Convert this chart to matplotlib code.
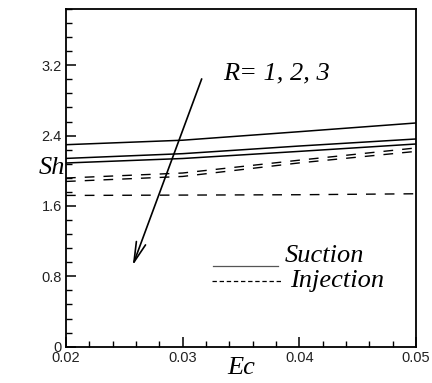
import matplotlib
matplotlib.use("Agg")
import matplotlib.pyplot as plt
from matplotlib.lines import Line2D
from matplotlib.ticker import MultipleLocator, FuncFormatter

# Ec values and Sh for R = 1, 2, 3
ec = [0.02, 0.03, 0.04, 0.05]
sh_suction = [
    [2.297, 2.348, 2.445, 2.544],
    [2.141, 2.195, 2.282, 2.362],
    [2.089, 2.140, 2.221, 2.305],
]
sh_injection = [
    [1.918, 1.975, 2.121, 2.260],
    [1.879, 1.936, 2.090, 2.221],
    [1.720, 1.724, 1.728, 1.739],
]
xticks = [0.02, 0.03, 0.04, 0.05]
yticks = [0, 0.8, 1.6, 2.4, 3.2]

SERIF = ["Liberation Serif", "DejaVu Serif"]
SANS = ["Liberation Sans", "DejaVu Sans"]

fig = plt.figure(figsize=(4.32, 3.83), dpi=100)
ax = fig.add_axes([66 / 432, 36.3 / 383, 350 / 432, 337.7 / 383])

for ys in sh_suction:
    ax.plot(ec, ys, color="black", lw=1.1)
for ys in sh_injection:
    ax.plot(ec, ys, color="black", lw=1.0, dashes=(7, 6.5))

ax.set_xlim(0.02, 0.05)
ax.set_ylim(0, 3.84)
ax.set_xticks(xticks)
ax.set_yticks(yticks)
ax.xaxis.set_minor_locator(MultipleLocator(0.002))
ax.yaxis.set_minor_locator(MultipleLocator(0.16))
fmt = FuncFormatter(lambda v, p: "%g" % round(v, 4))
ax.xaxis.set_major_formatter(fmt)
ax.yaxis.set_major_formatter(fmt)
ax.tick_params(which="both", direction="in", top=False, right=False, colors="black")
ax.tick_params(which="major", length=7, width=1.1, labelsize=10.5, pad=3)
ax.tick_params(which="minor", length=4, width=1.0)
for lab in ax.get_xticklabels() + ax.get_yticklabels():
    lab.set_family(SANS)
    lab.set_color("#222222")
for sp in ax.spines.values():
    sp.set_linewidth(1.3)

ax.set_xlabel("Ec", family=SERIF, style="italic", fontsize=19)
ax.xaxis.set_label_coords(0.5, -0.03)
ax.set_ylabel("Sh", family=SERIF, style="italic", fontsize=19, rotation=0,
              ha="center", va="center")
ax.yaxis.set_label_coords(-0.041, 0.529)

# arrow and label for increasing R
ax.annotate("", xy=(0.02572, 0.924), xytext=(0.03163, 3.045),
            arrowprops=dict(arrowstyle="->,head_length=1.45,head_width=0.35",
                            color="black", lw=1.2, shrinkA=0, shrinkB=0))
ax.text(0.03346, 3.038, "R= 1, 2, 3", family=SERIF, style="italic",
        fontsize=19, ha="left", va="baseline")

# legend
ax.add_line(Line2D([0.42, 0.606], [0.239, 0.239], transform=ax.transAxes,
                   color="#555555", lw=0.9))
ax.add_line(Line2D([0.417, 0.614], [0.195, 0.195], transform=ax.transAxes,
                   color="black", lw=0.9, dashes=(3.5, 2.2)))
ax.text(0.626, 0.250, "Suction", transform=ax.transAxes, family=SERIF,
        style="italic", fontsize=19, ha="left", va="baseline")
ax.text(0.64, 0.176, "Injection", transform=ax.transAxes, family=SERIF,
        style="italic", fontsize=19, ha="left", va="baseline")

fig.savefig("out.png", dpi=100)
